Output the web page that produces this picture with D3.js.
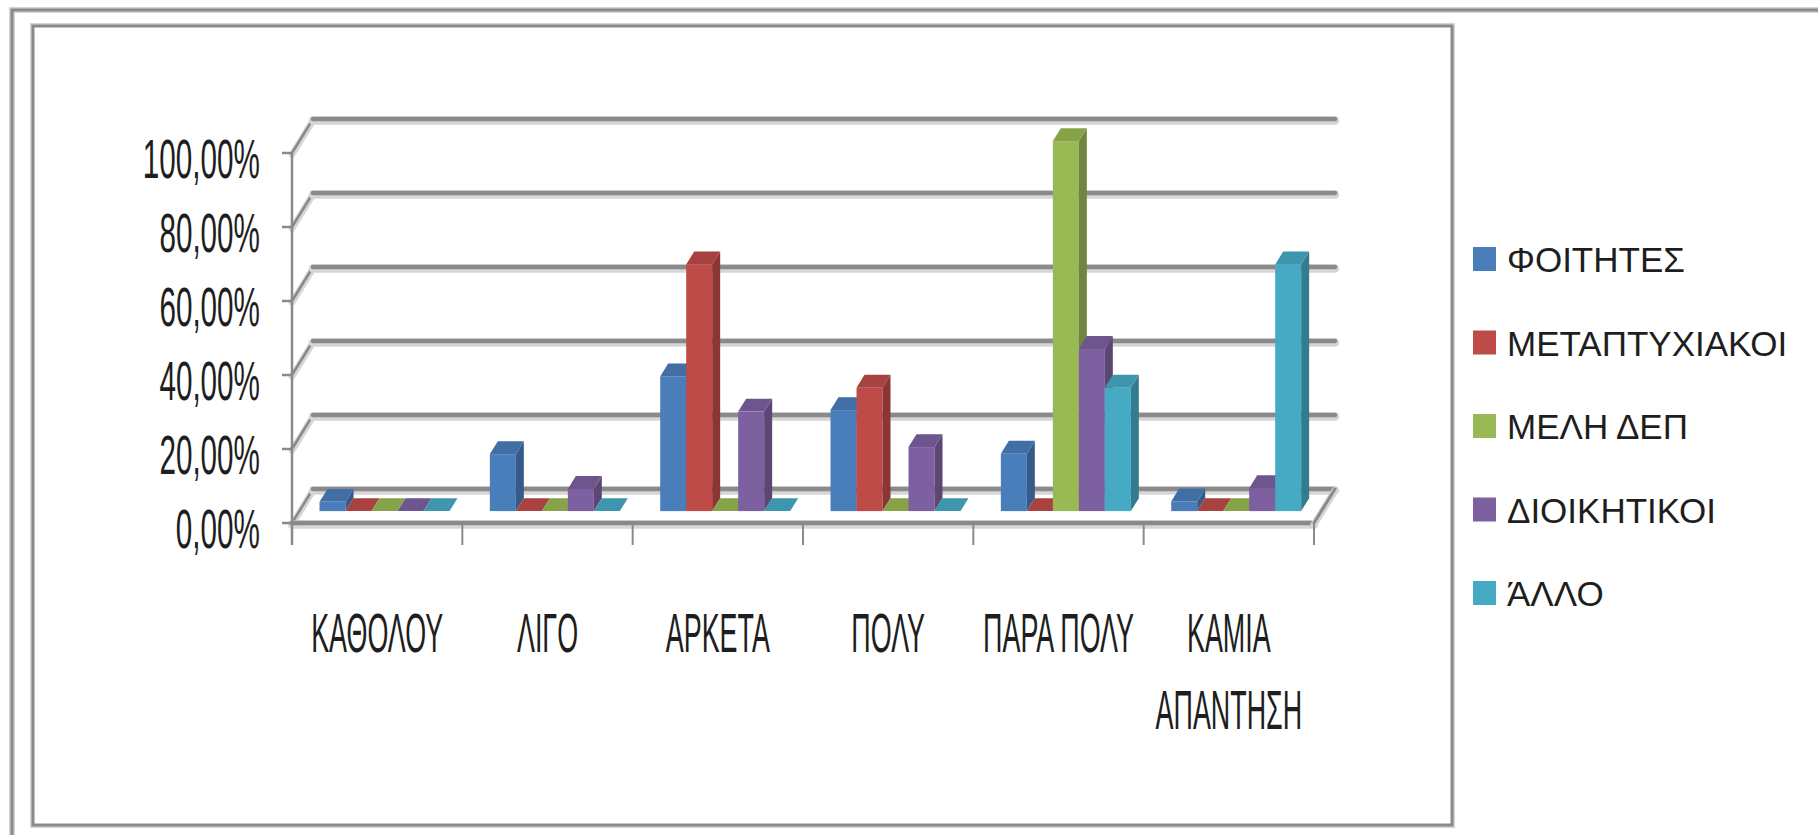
<!DOCTYPE html>
<html>
<head>
<meta charset="utf-8">
<script src="https://cdn.jsdelivr.net/npm/d3@7"></script>
<style>
  html, body { margin: 0; padding: 0; background: #ffffff; }
  svg { display: block; }
</style>
</head>
<body>
<svg id="chart" width="1818" height="835"></svg>
<script>
// ---------------- DATA ----------------
const categories = ["ΚΑΘΟΛΟΥ", "ΛΙΓΟ", "ΑΡΚΕΤΑ", "ΠΟΛΥ", "ΠΑΡΑ ΠΟΛΥ", "ΚΑΜΙΑ ΑΠΑΝΤΗΣΗ"];
const seriesNames = ["ΦΟΙΤΗΤΕΣ", "ΜΕΤΑΠΤΥΧΙΑΚΟΙ", "ΜΕΛΗ ΔΕΠ", "ΔΙΟΙΚΗΤΙΚΟΙ", "ΆΛΛΟ"];
const foitites        = [2.5, 15.4, 36.4, 27.3, 15.5, 2.6];
const metaptyxiakoi   = [0, 0, 66.67, 33.33, 0, 0];
const melhDep         = [0, 0, 0, 0, 100, 0];
const dioikhtikoi     = [0, 6.0, 26.9, 17.3, 43.8, 6.2];
const allo            = [0, 0, 0, 0, 33.33, 66.67];
const yTicks = [0, 20, 40, 60, 80, 100];
const yTickLabels = ["0,00%", "20,00%", "40,00%", "60,00%", "80,00%", "100,00%"];

const seriesValues = [foitites, metaptyxiakoi, melhDep, dioikhtikoi, allo];
const colors = ["#4A7EBB", "#BE4B48", "#98B954", "#7D60A0", "#46AAC5"];

// ---------------- LAYOUT ----------------
const svg = d3.select("#chart");
const W = 1818, H = 835;
const X0 = 292, X1 = 1314;           // front floor edge
const DX = 21, DY = -34;             // full depth offset
const Z0 = 0.35, Z1 = 0.73;          // bar depth span
const gridColor = "#8a8a8a";
const textColor = "#1e1e1e";

const x = d3.scaleBand().domain(categories).range([X0, X1]).paddingInner(0).paddingOuter(0);
const xs = d3.scaleBand().domain(seriesNames).range([0, x.bandwidth()]).paddingInner(0).paddingOuter(0.776);
const y = d3.scaleLinear().domain([0, 100]).range([523, 153]);

const proj = (px, v, z) => [px + z * DX, y(v) + z * DY];
const pts = arr => arr.map(p => p.join(",")).join(" ");

// background
svg.append("rect").attr("width", W).attr("height", H).attr("fill", "#ffffff");

// outer frame
svg.append("rect").attr("x", 12).attr("y", 10).attr("width", W + 40).attr("height", H + 40)
  .attr("fill", "none").attr("stroke", "#d4d4d4").attr("stroke-width", 6);
svg.append("rect").attr("x", 12).attr("y", 10).attr("width", W + 40).attr("height", H + 40)
  .attr("fill", "none").attr("stroke", gridColor).attr("stroke-width", 3);
// inner chart frame
svg.append("rect").attr("x", 33).attr("y", 26).attr("width", 1419).attr("height", 799)
  .attr("fill", "#ffffff").attr("stroke", "#d4d4d4").attr("stroke-width", 6);
svg.append("rect").attr("x", 33).attr("y", 26).attr("width", 1419).attr("height", 799)
  .attr("fill", "#ffffff").attr("stroke", gridColor).attr("stroke-width", 3);

// ---------------- GRID (back wall + floor) ----------------
const grid = svg.append("g");
function gline(p1, p2, w) {
  grid.append("line").attr("x1", p1[0]).attr("y1", p1[1] + 1.5).attr("x2", p2[0]).attr("y2", p2[1] + 1.5)
    .attr("stroke", "#d6d6d6").attr("stroke-width", w + 4).attr("stroke-linecap", "round");
  grid.append("line").attr("x1", p1[0]).attr("y1", p1[1]).attr("x2", p2[0]).attr("y2", p2[1])
    .attr("stroke", gridColor).attr("stroke-width", w).attr("stroke-linecap", "round");
}
yTicks.forEach(t => {
  gline(proj(X0, t, 0), proj(X0, t, 1), 2.5);
  gline(proj(X0, t, 1), proj(X1, t, 1), 4.5);
});
// floor edges
gline(proj(X0, 0, 0), proj(X1, 0, 0), 4.5);
gline(proj(X1, 0, 0), proj(X1, 0, 1), 3);

// y axis line + ticks
const axisG = svg.append("g");
axisG.append("line").attr("x1", X0).attr("x2", X0).attr("y1", y(100)).attr("y2", y(0) + 22)
  .attr("stroke", gridColor).attr("stroke-width", 2.5);
yTicks.forEach(t => {
  axisG.append("line").attr("x1", X0 - 10).attr("x2", X0).attr("y1", y(t)).attr("y2", y(t))
    .attr("stroke", gridColor).attr("stroke-width", 2.5);
});
// category dividers
d3.range(categories.length + 1).forEach(i => {
  const xx = X0 + i * x.step();
  axisG.append("line").attr("x1", xx).attr("x2", xx).attr("y1", y(0)).attr("y2", y(0) + 22)
    .attr("stroke", gridColor).attr("stroke-width", 2);
});

// y tick labels (condensed)
const yLab = svg.append("g");
yTicks.forEach((t, i) => {
  yLab.append("text")
    .attr("transform", `translate(260,${y(t) + 25}) scale(0.53,1)`)
    .attr("text-anchor", "end")
    .attr("font-family", "Liberation Sans, Arial, sans-serif")
    .attr("font-size", 56)
    .attr("fill", textColor)
    .text(yTickLabels[i]);
});

// ---------------- BARS ----------------
const barsG = svg.append("g");
const darker = (c, k) => d3.color(c).darker(k).formatHex();
categories.forEach((cat, ci) => {
  seriesNames.forEach((s, si) => {
    const v = seriesValues[si][ci];
    const bx0 = x(cat) + xs(s);
    const bx1 = bx0 + xs.bandwidth();
    const c = colors[si];
    const g = barsG.append("g");
    // front face
    const f0 = proj(bx0, 0, Z0), f1 = proj(bx1, v, Z0);
    g.append("rect").attr("x", f0[0]).attr("y", f1[1]).attr("width", f1[0] - f0[0])
      .attr("height", Math.max(0, f0[1] - f1[1])).attr("fill", c);
    // side face
    g.append("polygon").attr("points", pts([proj(bx1, 0, Z0), proj(bx1, v, Z0), proj(bx1, v, Z1), proj(bx1, 0, Z1)]))
      .attr("fill", darker(c, 0.9));
    // top face
    g.append("polygon").attr("points", pts([proj(bx0, v, Z0), proj(bx1, v, Z0), proj(bx1, v, Z1), proj(bx0, v, Z1)]))
      .attr("fill", darker(c, 0.35));
  });
});

// ---------------- CATEGORY LABELS ----------------
const catG = svg.append("g");
const catScale = 0.48;
categories.forEach(cat => {
  const cx = x(cat) + x.bandwidth() / 2;
  const t = catG.append("text")
    .attr("transform", `translate(${cx},652) scale(${catScale},1)`)
    .attr("text-anchor", "middle")
    .attr("font-family", "Liberation Sans, Arial, sans-serif")
    .attr("font-size", 56)
    .attr("fill", textColor)
    .text(cat);
  const w = t.node().getComputedTextLength() * catScale;
  if (w > x.step() && cat.indexOf(" ") > 0) {
    const words = cat.split(" ");
    t.text(null);
    words.forEach((wd, i) => {
      t.append("tspan").attr("x", 0).attr("dy", i === 0 ? 0 : 77).text(wd);
    });
  }
});

// ---------------- LEGEND ----------------
const leg = d3.scalePoint().domain(seriesNames).range([259, 593]);
const legG = svg.append("g");
seriesNames.forEach((s, i) => {
  legG.append("rect").attr("x", 1473).attr("y", leg(s) - 12).attr("width", 23).attr("height", 24)
    .attr("fill", colors[i]);
  legG.append("text").attr("x", 1507).attr("y", leg(s) + 13)
    .attr("font-family", "Liberation Sans, Arial, sans-serif")
    .attr("font-size", 35)
    .attr("fill", textColor)
    .text(s);
});
</script>
</body>
</html>
